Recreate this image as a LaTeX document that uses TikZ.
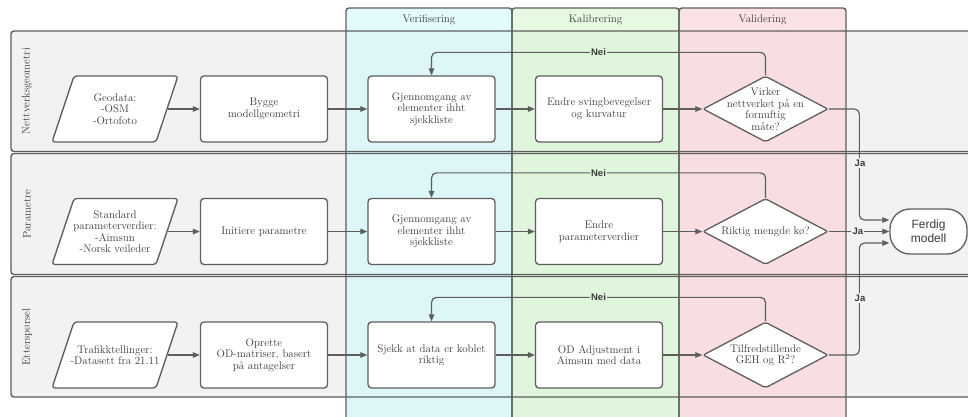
\documentclass[tikz,border=0pt]{standalone}
\usepackage{fontspec}
\newfontfamily\labelsans{Liberation Sans}
\usetikzlibrary{shapes.geometric,arrows.meta,calc}

\definecolor{lanefill}{HTML}{F2F2F2}
\definecolor{edgegray}{HTML}{5E5E5E}
\definecolor{inkgray}{HTML}{3A3A3A}
\definecolor{verfill}{HTML}{DDF6F8}
\definecolor{verhead}{HTML}{E3FBFD}
\definecolor{kalfill}{HTML}{E0F6DC}
\definecolor{kalhead}{HTML}{E5FAE1}
\definecolor{valfill}{HTML}{F8DDE1}
\definecolor{valhead}{HTML}{FBE2E6}

\begin{document}
\begin{tikzpicture}[x=1pt,y=-1pt,
  every node/.style={text=inkgray, font=\fontsize{11}{11.5}\selectfont},
  lane/.style={draw=edgegray, line width=1.4pt, rounded corners=3pt},
  colborder/.style={draw=edgegray, line width=1.4pt, rounded corners=3pt},
  stepbox/.style={draw=edgegray, fill=white, line width=1.3pt, rounded corners=3.5pt,
    minimum width=127pt, minimum height=66pt, inner sep=3pt, text width=121pt, align=center},
  databox/.style={trapezium, trapezium left angle=75, trapezium right angle=105,
    trapezium stretches=true, draw=edgegray, fill=white, line width=1.3pt, rounded corners=3pt,
    minimum width=126pt, minimum height=66pt, inner sep=2pt},
  decision/.style={diamond, draw=edgegray, fill=white, line width=1.3pt, rounded corners=2pt,
    minimum width=125pt, minimum height=66pt, inner sep=2pt},
  endbox/.style={draw=edgegray, fill=white, line width=1.3pt, rounded corners=20pt,
    minimum width=77pt, minimum height=45pt, align=center,
    font=\labelsans\fontsize{12}{14}\selectfont},
  flow/.style={draw=edgegray, line width=1.2pt, -{Triangle[length=7pt,width=5.5pt]}},
  tag/.style={inner sep=1.2pt, text=inkgray, font=\labelsans\bfseries\fontsize{9.5}{10}\selectfont},
  headtext/.style={font=\fontsize{11}{12}\selectfont},
  lanetext/.style={rotate=90, font=\fontsize{11}{12}\selectfont}
]
\useasboundingbox (0,0) rectangle (968,416);
\clip (0,0) rectangle (968,416);
\fill[white] (0,0) rectangle (968,416);

% swimlane rows
\fill[lanefill, rounded corners=3pt] (11,31) rectangle (990,151.5);
\fill[lanefill, rounded corners=3pt] (11,153.5) rectangle (990,274.5);
\fill[lanefill, rounded corners=3pt] (11,276.5) rectangle (990,397);

% phase columns
\fill[verfill] (346,31) rectangle (512,425);
\fill[kalfill] (512,31) rectangle (679,425);
\fill[valfill] (679,31) rectangle (846,425);
\fill[verhead, rounded corners=3pt] (346,31) -- (346,8) -- (512,8) -- (512,31) -- cycle;
\fill[kalhead, rounded corners=3pt] (512,31) -- (512,8) -- (679,8) -- (679,31) -- cycle;
\fill[valhead, rounded corners=3pt] (679,31) -- (679,8) -- (846,8) -- (846,31) -- cycle;

% lane outlines over the columns
\draw[lane] (11,31) rectangle (990,151.5);
\draw[lane] (11,153.5) rectangle (990,274.5);
\draw[lane] (11,276.5) rectangle (990,397);

% column outlines
\draw[colborder] (346,425) -- (346,8) -- (512,8) -- (512,425);
\draw[colborder] (512,425) -- (512,8) -- (679,8) -- (679,425);
\draw[colborder] (679,425) -- (679,8) -- (846,8) -- (846,425);

% column headers
\node[headtext] (hver) at (429,19.5) {Verifisering};
\node[headtext] (hkal) at (595.5,19.5) {Kalibrering};
\node[headtext] (hval) at (762.5,19.5) {Validering};

% lane titles
\node[lanetext] (lnet) at (27,91) {Nettverksgeometri};
\node[lanetext] (lpar) at (27,214) {Parametre};
\node[lanetext] (lett) at (27,337) {Etterspørsel};

% row 1: network geometry
\node[databox, label={[align=center]center:Geodata:\\-OSM\\-Ortofoto}] (p1) at (115,109) {};
\node[stepbox] (b1) at (264,109) {Bygge\\modellgeometri};
\node[stepbox] (g1) at (431.5,109) {Gjennomgang av\\elementer ihht\\sjekkliste};
\node[stepbox] (e1) at (599,109) {Endre svingbevegelser\\og kurvatur};
\node[decision, label={[align=center]center:Virker\\nettverket på en\\fornuftig\\måte?}] (d1) at (765.5,109) {};

% row 2: parameters
\node[databox, label={[align=center]center:Standard\\parameterverdier:\\-Aimsun\\-Norsk veileder}] (p2) at (115,231.5) {};
\node[stepbox] (b2) at (264,231.5) {Initiere parametre};
\node[stepbox] (g2) at (431.5,231.5) {Gjennomgang av\\elementer ihht\\sjekkliste};
\node[stepbox] (e2) at (599,231.5) {Endre\\parameterverdier};
\node[decision, label={[align=center]center:Riktig mengde kø?}] (d2) at (765.5,231.5) {};

% row 3: demand
\node[databox, label={[align=center]center:Trafikktellinger:\\-Datasett fra 21.11}] (p3) at (115,355) {};
\node[stepbox] (b3) at (264,355) {Oprette\\OD-matriser, basert\\på antagelser};
\node[stepbox] (g3) at (431.5,355) {Sjekk at data er koblet\\riktig};
\node[stepbox] (e3) at (599,355) {OD Adjustment i\\Aimsun med data};
\node[decision, label={[align=center]center:Tilfredstillende\\GEH og R\textsuperscript{2}?}] (d3) at (765.5,355) {};

% final state
\node[endbox] (fm) at (928.5,231.5) {Ferdig\\modell};

% forward flow
\foreach \r in {1,2,3} {
  \draw[flow] (p\r) -- (b\r);
  \draw[flow] (b\r) -- (g\r);
  \draw[flow] (g\r) -- (e\r);
  \draw[flow] (e\r) -- (d\r);
}

% rejection loops
\draw[flow, rounded corners=5pt] (d1.north) -- ++(0,-23) -| (g1.north)
  node[tag, fill=kalfill, pos=0.25] (nei1) {Nei};
\draw[flow, rounded corners=5pt] (d2.north) -- ++(0,-25) -| (g2.north)
  node[tag, fill=kalfill, pos=0.25] (nei2) {Nei};
\draw[flow, rounded corners=5pt] (d3.north) -- ++(0,-24) -| (g3.north)
  node[tag, fill=kalfill, pos=0.25] (nei3) {Nei};

% acceptance paths
\coordinate (ja1c) at ($(fm.west)+(-30,-11.5)$);
\coordinate (ja1e) at ($(fm.west)+(0,-11.5)$);
\coordinate (ja3c) at ($(fm.west)+(-30,11.5)$);
\coordinate (ja3e) at ($(fm.west)+(0,11.5)$);
\draw[flow, rounded corners=5pt] (d1.east) -| (ja1c) -- (ja1e);
\draw[flow] (d2.east) -- (fm.west) node[tag, fill=lanefill, pos=0.48] (ja2) {Ja};
\draw[flow, rounded corners=5pt] (d3.east) -| (ja3c) -- (ja3e);
\node[tag, fill=lanefill] (ja1) at (860,163) {Ja};
\node[tag, fill=lanefill] (ja3) at (860,298) {Ja};
\end{tikzpicture}
\end{document}
